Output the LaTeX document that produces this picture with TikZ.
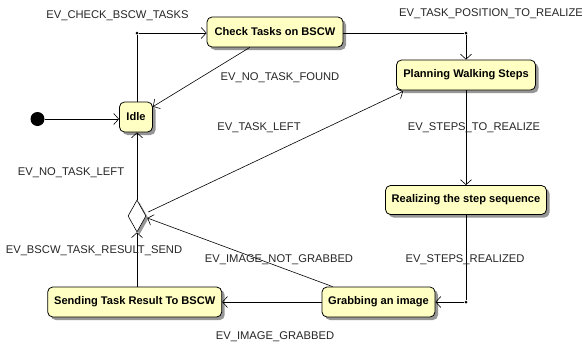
\documentclass[tikz,border=0pt]{standalone}
\usepackage{fontspec}
\setmainfont{Liberation Sans}
\usetikzlibrary{arrows.meta,shapes.geometric,shadows,calc}
\definecolor{stfill}{RGB}{255,255,196}
\definecolor{shadowc}{RGB}{150,150,150}
\begin{document}
\begin{tikzpicture}[x=1pt,y=-1pt,
  state/.style={draw=black,line width=0.8pt,fill=stfill,rounded corners=5pt,
    font=\fontsize{11.1}{12}\selectfont\bfseries,inner sep=0pt,
    drop shadow={shadow xshift=3pt,shadow yshift=-3pt,fill=shadowc,opacity=1}},
  lbl/.style={font=\fontsize{11.2}{12}\selectfont,text=black!85,inner sep=0pt},
  arr/.style={line width=0.6pt,-{Straight Barb[length=5pt,width=11pt,line width=0.6pt]}},
  conn/.style={line width=0.6pt},
  jdot/.style={circle,fill=black,inner sep=0pt,minimum size=3pt}]
\useasboundingbox[fill=white] (0,0) rectangle (582,346);
% nodes
\node[circle,fill=black,minimum size=14pt,inner sep=0pt] (init) at (37.5,119) {};
\node[state,minimum width=33pt,minimum height=30pt] (idle) at (136,117) {Idle};
\node[state,minimum width=136pt,minimum height=30pt] (check) at (275,32) {Check Tasks on BSCW};
\node[state,minimum width=139pt,minimum height=30pt] (plan) at (466,75) {Planning Walking Steps};
\node[state,minimum width=161pt,minimum height=29pt] (real) at (466,200) {Realizing the step sequence};
\node[state,minimum width=113pt,minimum height=30pt] (grab) at (378.5,302) {Grabbing an image};
\node[state,minimum width=174pt,minimum height=30pt] (send) at (134.7,302) {Sending Task Result To BSCW};
\node[diamond,draw=black,line width=0.6pt,fill=white,minimum width=18pt,minimum height=32pt,inner sep=0pt,
  drop shadow={shadow xshift=2.5pt,shadow yshift=-2.5pt,fill=shadowc,opacity=1}] (dia) at (137,216) {};
% junction points
\node[jdot] (j1) at (137,33) {};
\node[jdot] (j2) at (466,33) {};
\node[jdot] (j3) at (466,302) {};
% connectors
\draw[arr] (init) -- (idle.west |- init);
\draw[conn] (idle.north -| j1) -- (j1);
\draw[arr] (j1) -- (check.west |- j1);
\draw[arr] (check) -- (idle);
\draw[conn] (check.east |- j2) -- (j2);
\draw[arr] (j2) -- (plan.north);
\draw[arr] (plan.south) -- (real.north);
\draw[conn] (real.south) -- (j3);
\draw[arr] (j3) -- (grab.east);
\draw[arr] (grab.west) -- (send.east);
\draw[arr] (send.north -| dia) -- (dia.south);
\draw[arr] ($(grab.north west)+(11,0)$) -- ($(dia.east)+(1,2)$);
\draw[arr] ($(dia.east)+(2,-4)$) -- ($(plan.south west)+(7,1)$);
\draw[arr] (dia.north) -- (idle.south -| dia);
% labels
\node[lbl] (l1) at (117.5,16) {EV\_CHECK\_BSCW\_TASKS};
\node[lbl] (l2) at (491,14) {EV\_TASK\_POSITION\_TO\_REALIZE};
\node[lbl] (l3) at (280,78) {EV\_NO\_TASK\_FOUND};
\node[lbl] (l4) at (259,128) {EV\_TASK\_LEFT};
\node[lbl] (l5) at (474,128) {EV\_STEPS\_TO\_REALIZE};
\node[lbl] (l6) at (71,173) {EV\_NO\_TASK\_LEFT};
\node[lbl] (l7) at (94,251) {EV\_BSCW\_TASK\_RESULT\_SEND};
\node[lbl] (l8) at (279,260) {EV\_IMAGE\_NOT\_GRABBED};
\node[lbl] (l9) at (465,260) {EV\_STEPS\_REALIZED};
\node[lbl] (l10) at (275,337) {EV\_IMAGE\_GRABBED};
\end{tikzpicture}
\end{document}
